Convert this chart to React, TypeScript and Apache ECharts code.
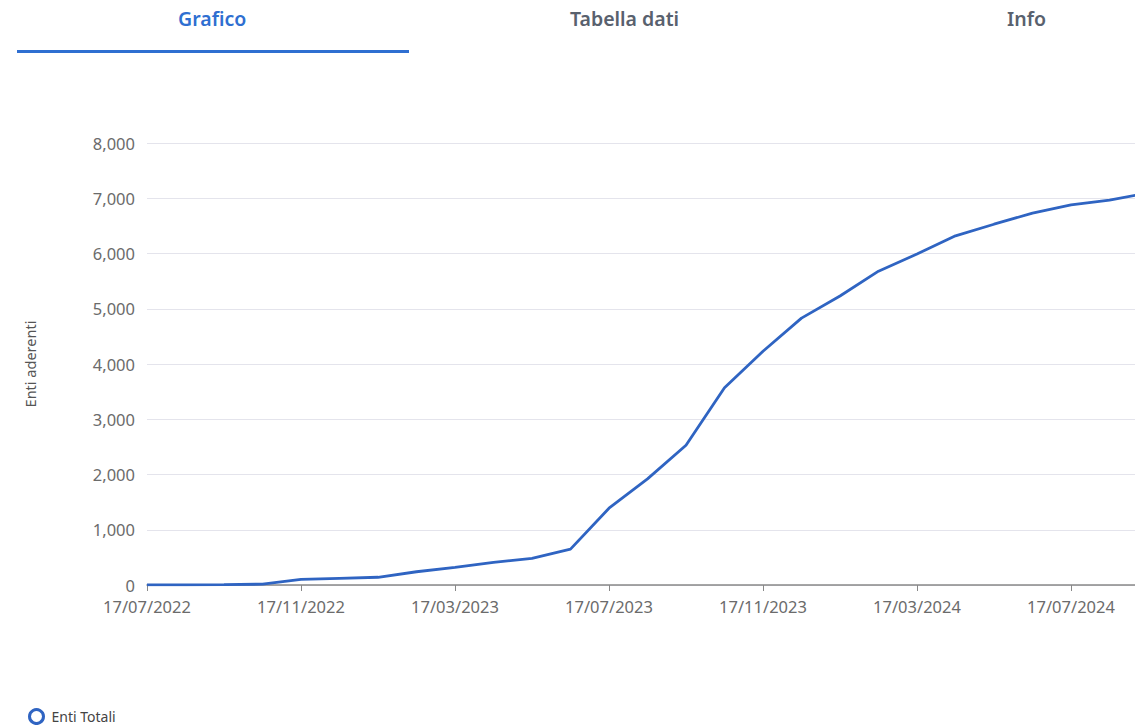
import React, { useEffect, useRef } from "react";
import * as echarts from "echarts";

const dates = [
  "17/07/2022", "17/08/2022", "17/09/2022", "17/10/2022", "17/11/2022", "17/12/2022",
  "17/01/2023", "17/02/2023", "17/03/2023", "17/04/2023", "17/05/2023", "17/06/2023",
  "17/07/2023", "17/08/2023", "17/09/2023", "17/10/2023", "17/11/2023", "17/12/2023",
  "17/01/2024", "17/02/2024", "17/03/2024", "17/04/2024", "17/05/2024", "17/06/2024",
  "17/07/2024", "17/08/2024", "17/09/2024",
];
const entiTotali = [
  2, 4, 7, 15, 100, 120,
  140, 240, 320, 410, 480, 650,
  1390, 1920, 2530, 3570, 4230, 4830,
  5230, 5680, 5990, 6320, 6530, 6730,
  6880, 6965, 7095,
];
const yTicks = { min: 0, max: 8000, interval: 1000 };
const tabs = ["Grafico", "Tabella dati", "Info"];
const seriesName = "Enti Totali";
const yAxisName = "Enti aderenti";

export default function App() {
  const ref = useRef<HTMLDivElement>(null);
  useEffect(() => {
    if (!ref.current) return;
    const chart = echarts.init(ref.current, undefined, { renderer: "svg" });
    const font = "'Noto Sans', sans-serif";
    const blue = "#2f64c2";
    chart.setOption({
      animation: false,
      textStyle: { fontFamily: font },
      graphic: [
        { type: "text", left: 178, top: 8, style: { text: tabs[0], fill: "#2f6fd1", font: `600 19.5px ${font}` } },
        { type: "text", left: 570, top: 8, style: { text: tabs[1], fill: "#59616e", font: `600 19.5px ${font}` } },
        { type: "text", left: 1007, top: 8, style: { text: tabs[2], fill: "#59616e", font: `600 19.5px ${font}` } },
        { type: "rect", shape: { x: 17, y: 50, width: 392, height: 3 }, style: { fill: "#2f6fd1" } },
      ],
      legend: {
        left: 28,
        top: 708,
        padding: 0,
        icon: "circle",
        itemWidth: 14,
        itemHeight: 14,
        itemGap: 8,
        itemStyle: { color: "#ffffff", borderColor: blue, borderWidth: 3 },
        textStyle: { color: "#444", fontSize: 14, fontFamily: font, padding: [0, 0, 0, 3] },
        data: [seriesName],
      },
      grid: { left: 147, right: 0, top: 143, bottom: 140, containLabel: false },
      xAxis: {
        type: "value",
        min: 0,
        max: 988 / 38.5,
        interval: 4,
        axisLine: { lineStyle: { color: "#888", width: 1.5 } },
        axisTick: { show: true, length: 6, lineStyle: { color: "#888" } },
        splitLine: { show: false },
        axisLabel: {
          color: "#6b6b6b",
          fontSize: 16.5,
          fontFamily: font,
          margin: 13,
          showMaxLabel: false,
          formatter: (v: number) => (Number.isInteger(v) ? dates[v] : ""),
        },
      },
      yAxis: {
        type: "value",
        min: yTicks.min,
        max: yTicks.max,
        interval: yTicks.interval,
        name: yAxisName,
        nameLocation: "middle",
        nameGap: 110,
        nameTextStyle: { color: "#555", fontSize: 14.5, fontFamily: font },
        axisLine: { show: false },
        axisTick: { show: false },
        splitLine: { lineStyle: { color: "#e4e4ec", width: 1 } },
        axisLabel: {
          color: "#6b6b6b",
          fontSize: 16.5,
          fontFamily: font,
          margin: 12,
          formatter: (v: number) => v.toLocaleString("en-US"),
        },
      },
      series: [
        {
          name: seriesName,
          type: "line",
          data: entiTotali.map((v, i) => [i, v]),
          showSymbol: false,
          symbol: "emptyCircle",
          clip: true,
          lineStyle: { color: blue, width: 2.8 },
          itemStyle: { color: blue },
        },
      ],
    });
    return () => chart.dispose();
  }, []);
  return (
    <div
      ref={ref}
      style={{ position: "fixed", left: 0, top: 0, width: 1135, height: 725, background: "#fff" }}
    />
  );
}
